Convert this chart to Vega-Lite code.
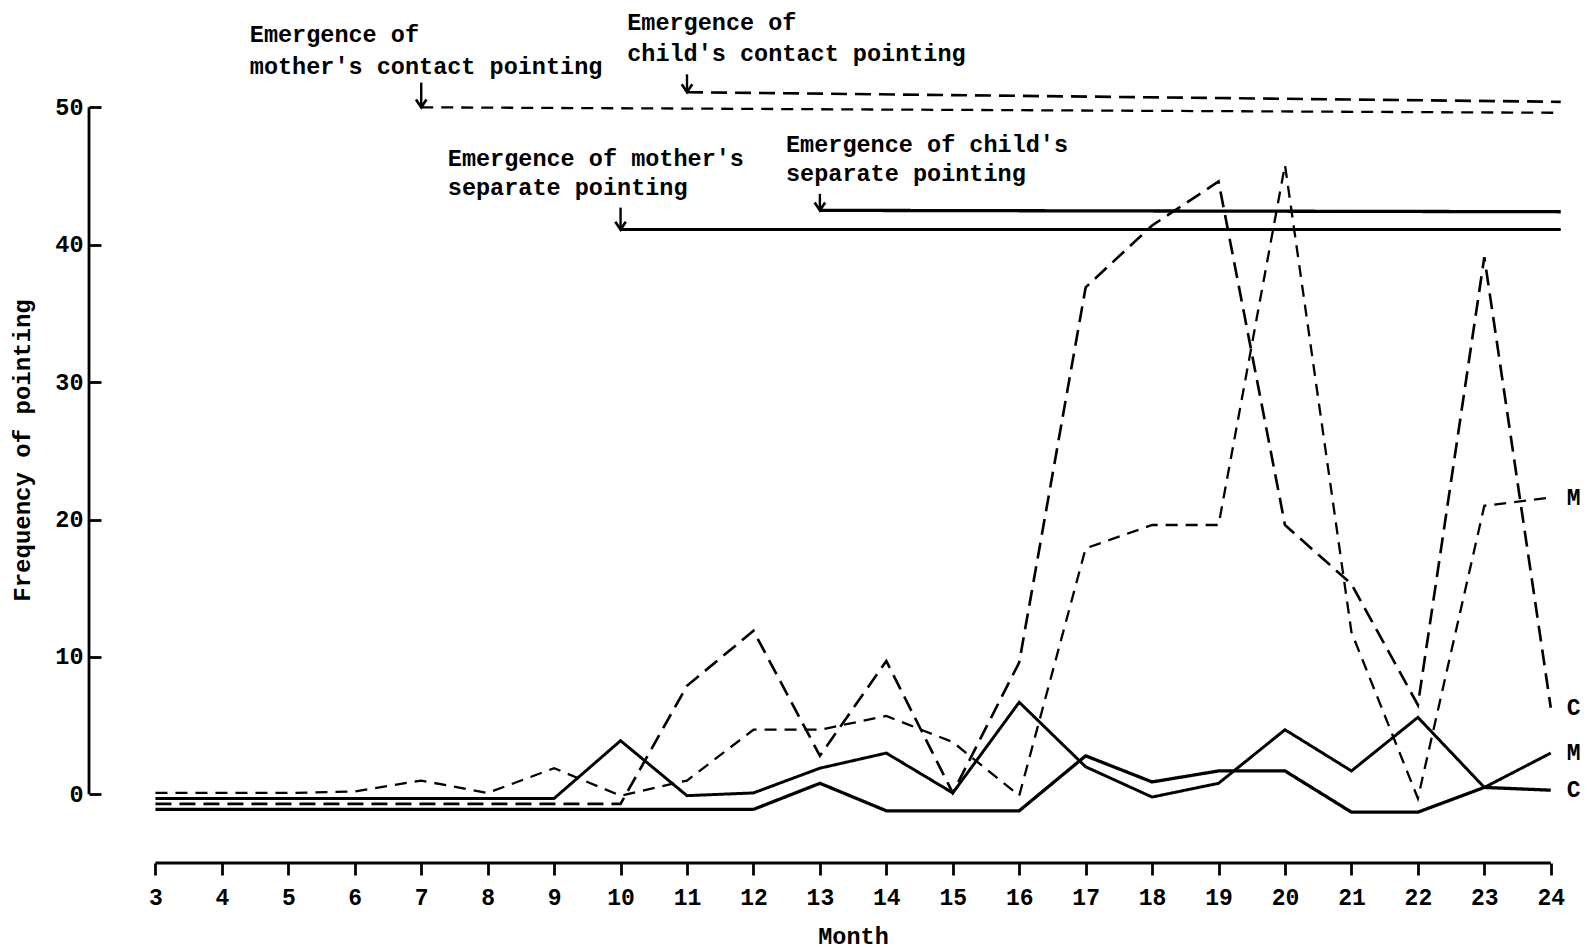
{
  "$schema": "https://vega.github.io/schema/vega-lite/v6.json",
  "width": 1495,
  "height": 863,
  "autosize": {"type": "none"},
  "padding": {"left": 89, "top": 0, "right": 3, "bottom": 88},
  "background": "white",
  "config": {"view": {"stroke": null}, "font": "Liberation Mono", "axis": {"grid": false}},
  "datasets": {
    "series": [
      {"month": 3, "value": 0.1, "series": "mother contact", "who": "M"},
      {"month": 4, "value": 0.1, "series": "mother contact", "who": "M"},
      {"month": 5, "value": 0.1, "series": "mother contact", "who": "M"},
      {"month": 6, "value": 0.2, "series": "mother contact", "who": "M"},
      {"month": 7, "value": 1.0, "series": "mother contact", "who": "M"},
      {"month": 8, "value": 0.1, "series": "mother contact", "who": "M"},
      {"month": 9, "value": 1.9, "series": "mother contact", "who": "M"},
      {"month": 10, "value": -0.1, "series": "mother contact", "who": "M"},
      {"month": 11, "value": 1.0, "series": "mother contact", "who": "M"},
      {"month": 12, "value": 4.7, "series": "mother contact", "who": "M"},
      {"month": 13, "value": 4.7, "series": "mother contact", "who": "M"},
      {"month": 14, "value": 5.7, "series": "mother contact", "who": "M"},
      {"month": 15, "value": 3.8, "series": "mother contact", "who": "M"},
      {"month": 16, "value": -0.1, "series": "mother contact", "who": "M"},
      {"month": 17, "value": 17.9, "series": "mother contact", "who": "M"},
      {"month": 18, "value": 19.6, "series": "mother contact", "who": "M"},
      {"month": 19, "value": 19.6, "series": "mother contact", "who": "M"},
      {"month": 20, "value": 45.8, "series": "mother contact", "who": "M"},
      {"month": 21, "value": 11.8, "series": "mother contact", "who": "M"},
      {"month": 22, "value": -0.3, "series": "mother contact", "who": "M"},
      {"month": 23, "value": 21.0, "series": "mother contact", "who": "M"},
      {"month": 24, "value": 21.6, "series": "mother contact", "who": "M"},

      {"month": 3, "value": -0.7, "series": "child contact", "who": "C"},
      {"month": 4, "value": -0.7, "series": "child contact", "who": "C"},
      {"month": 5, "value": -0.7, "series": "child contact", "who": "C"},
      {"month": 6, "value": -0.7, "series": "child contact", "who": "C"},
      {"month": 7, "value": -0.7, "series": "child contact", "who": "C"},
      {"month": 8, "value": -0.7, "series": "child contact", "who": "C"},
      {"month": 9, "value": -0.7, "series": "child contact", "who": "C"},
      {"month": 10, "value": -0.7, "series": "child contact", "who": "C"},
      {"month": 11, "value": 7.9, "series": "child contact", "who": "C"},
      {"month": 12, "value": 11.9, "series": "child contact", "who": "C"},
      {"month": 13, "value": 2.8, "series": "child contact", "who": "C"},
      {"month": 14, "value": 9.7, "series": "child contact", "who": "C"},
      {"month": 15, "value": 0.1, "series": "child contact", "who": "C"},
      {"month": 16, "value": 9.6, "series": "child contact", "who": "C"},
      {"month": 17, "value": 36.9, "series": "child contact", "who": "C"},
      {"month": 18, "value": 41.4, "series": "child contact", "who": "C"},
      {"month": 19, "value": 44.6, "series": "child contact", "who": "C"},
      {"month": 20, "value": 19.6, "series": "child contact", "who": "C"},
      {"month": 21, "value": 15.3, "series": "child contact", "who": "C"},
      {"month": 22, "value": 6.5, "series": "child contact", "who": "C"},
      {"month": 23, "value": 39.1, "series": "child contact", "who": "C"},
      {"month": 24, "value": 6.3, "series": "child contact", "who": "C"},

      {"month": 3, "value": -0.3, "series": "mother separate", "who": "M"},
      {"month": 4, "value": -0.3, "series": "mother separate", "who": "M"},
      {"month": 5, "value": -0.3, "series": "mother separate", "who": "M"},
      {"month": 6, "value": -0.3, "series": "mother separate", "who": "M"},
      {"month": 7, "value": -0.3, "series": "mother separate", "who": "M"},
      {"month": 8, "value": -0.3, "series": "mother separate", "who": "M"},
      {"month": 9, "value": -0.3, "series": "mother separate", "who": "M"},
      {"month": 10, "value": 3.9, "series": "mother separate", "who": "M"},
      {"month": 11, "value": -0.1, "series": "mother separate", "who": "M"},
      {"month": 12, "value": 0.1, "series": "mother separate", "who": "M"},
      {"month": 13, "value": 1.9, "series": "mother separate", "who": "M"},
      {"month": 14, "value": 3.0, "series": "mother separate", "who": "M"},
      {"month": 15, "value": 0.1, "series": "mother separate", "who": "M"},
      {"month": 16, "value": 6.7, "series": "mother separate", "who": "M"},
      {"month": 17, "value": 2.0, "series": "mother separate", "who": "M"},
      {"month": 18, "value": -0.2, "series": "mother separate", "who": "M"},
      {"month": 19, "value": 0.8, "series": "mother separate", "who": "M"},
      {"month": 20, "value": 4.7, "series": "mother separate", "who": "M"},
      {"month": 21, "value": 1.7, "series": "mother separate", "who": "M"},
      {"month": 22, "value": 5.6, "series": "mother separate", "who": "M"},
      {"month": 23, "value": 0.5, "series": "mother separate", "who": "M"},
      {"month": 24, "value": 3.0, "series": "mother separate", "who": "M"},

      {"month": 3, "value": -1.1, "series": "child separate", "who": "C"},
      {"month": 4, "value": -1.1, "series": "child separate", "who": "C"},
      {"month": 5, "value": -1.1, "series": "child separate", "who": "C"},
      {"month": 6, "value": -1.1, "series": "child separate", "who": "C"},
      {"month": 7, "value": -1.1, "series": "child separate", "who": "C"},
      {"month": 8, "value": -1.1, "series": "child separate", "who": "C"},
      {"month": 9, "value": -1.1, "series": "child separate", "who": "C"},
      {"month": 10, "value": -1.1, "series": "child separate", "who": "C"},
      {"month": 11, "value": -1.1, "series": "child separate", "who": "C"},
      {"month": 12, "value": -1.1, "series": "child separate", "who": "C"},
      {"month": 13, "value": 0.8, "series": "child separate", "who": "C"},
      {"month": 14, "value": -1.2, "series": "child separate", "who": "C"},
      {"month": 15, "value": -1.2, "series": "child separate", "who": "C"},
      {"month": 16, "value": -1.2, "series": "child separate", "who": "C"},
      {"month": 17, "value": 2.8, "series": "child separate", "who": "C"},
      {"month": 18, "value": 0.9, "series": "child separate", "who": "C"},
      {"month": 19, "value": 1.7, "series": "child separate", "who": "C"},
      {"month": 20, "value": 1.7, "series": "child separate", "who": "C"},
      {"month": 21, "value": -1.3, "series": "child separate", "who": "C"},
      {"month": 22, "value": -1.3, "series": "child separate", "who": "C"},
      {"month": 23, "value": 0.5, "series": "child separate", "who": "C"},
      {"month": 24, "value": 0.3, "series": "child separate", "who": "C"}
    ],
    "guides": [
      {"series": "mother contact", "start": 7, "end": 24.15, "y1": 50.0, "y2": 49.6, "top": 51.8},
      {"series": "child contact", "start": 11, "end": 24.15, "y1": 51.1, "y2": 50.4, "top": 52.4},
      {"series": "mother separate", "start": 10, "end": 24.15, "y1": 41.1, "y2": 41.1, "top": 42.7},
      {"series": "child separate", "start": 13, "end": 24.15, "y1": 42.5, "y2": 42.4, "top": 43.7}
    ],
    "notes": [
      {"month": 4.42, "value": 55.23, "text": "Emergence of"},
      {"month": 4.42, "value": 52.95, "text": "mother's contact pointing"},
      {"month": 10.1, "value": 56.11, "text": "Emergence of"},
      {"month": 10.1, "value": 53.91, "text": "child's contact pointing"},
      {"month": 7.4, "value": 46.24, "text": "Emergence of mother's"},
      {"month": 7.4, "value": 44.11, "text": "separate pointing"},
      {"month": 12.49, "value": 47.28, "text": "Emergence of child's"},
      {"month": 12.49, "value": 45.14, "text": "separate pointing"}
    ],
    "frame": [{"x0": 2, "x3": 3, "x24": 24, "ybottom": -5, "y0": 0, "y50": 50}]
  },
  "layer": [
    {
      "data": {"name": "series"},
      "mark": {"type": "line", "color": "black", "strokeJoin": "miter"},
      "encoding": {
        "x": {
          "field": "month", "type": "quantitative",
          "scale": {"domain": [2, 24.5], "nice": false, "zero": false},
          "axis": {
            "values": [3, 4, 5, 6, 7, 8, 9, 10, 11, 12, 13, 14, 15, 16, 17, 18, 19, 20, 21, 22, 23, 24],
            "format": "d", "domain": false, "ticks": true, "tickSize": 12, "tickWidth": 2.8, "tickColor": "black",
            "labelFontSize": 23, "labelFont": "Liberation Mono", "labelFontWeight": "bold", "labelColor": "black", "labelPadding": 11,
            "labelFlush": false, "labelOverlap": false,
            "title": "Month", "titleFont": "Liberation Mono", "titleFontSize": 23.5, "titleFontWeight": "bold", "titleColor": "black",
            "titleX": 764, "titleY": 73, "titleAlign": "center", "titleBaseline": "middle"
          }
        },
        "y": {
          "field": "value", "type": "quantitative",
          "scale": {"domain": [-5, 57.81], "nice": false, "zero": false},
          "axis": {
            "values": [0, 10, 20, 30, 40, 50],
            "domain": false, "ticks": true, "tickSize": -12, "tickWidth": 2.8, "tickColor": "black",
            "labelFontSize": 23.5, "labelFont": "Liberation Mono", "labelFontWeight": "bold", "labelColor": "black", "labelPadding": 18,
            "title": "Frequency of pointing", "titleFont": "Liberation Mono", "titleFontSize": 24, "titleFontWeight": "bold", "titleColor": "black",
            "titleAngle": -90, "titleX": -67, "titleY": 450, "titleAlign": "center", "titleBaseline": "middle"
          }
        },
        "strokeDash": {
          "field": "series", "type": "nominal",
          "scale": {"domain": ["mother contact", "child contact", "mother separate", "child separate"], "range": [[12, 8], [16, 8], [1, 0], [1, 0]]},
          "legend": null
        },
        "strokeWidth": {
          "field": "series", "type": "ordinal",
          "scale": {"domain": ["mother contact", "child contact", "mother separate", "child separate"], "range": [2.3, 3.3, 2.3, 3.8]},
          "legend": null
        }
      }
    },
    {
      "data": {"name": "frame"},
      "mark": {"type": "rule", "color": "black", "strokeWidth": 3.2},
      "encoding": {
        "x": {"field": "x3", "type": "quantitative"},
        "x2": {"field": "x24"},
        "y": {"field": "ybottom", "type": "quantitative"}
      }
    },
    {
      "data": {"name": "frame"},
      "mark": {"type": "rule", "color": "black", "strokeWidth": 2.8},
      "encoding": {
        "x": {"field": "x0", "type": "quantitative"},
        "y": {"field": "y0", "type": "quantitative"},
        "y2": {"field": "y50"}
      }
    },
    {
      "data": {"name": "guides"},
      "mark": {"type": "rule", "color": "black"},
      "encoding": {
        "x": {"field": "start", "type": "quantitative"},
        "x2": {"field": "end"},
        "y": {"field": "y1", "type": "quantitative"},
        "y2": {"field": "y2"},
        "strokeDash": {"field": "series", "type": "nominal", "legend": null},
        "strokeWidth": {"field": "series", "type": "ordinal", "legend": null}
      }
    },
    {
      "data": {"name": "guides"},
      "mark": {"type": "rule", "color": "black", "strokeWidth": 2.4},
      "encoding": {
        "x": {"field": "start", "type": "quantitative"},
        "y": {"field": "top", "type": "quantitative"},
        "y2": {"field": "y1"}
      }
    },
    {
      "data": {"name": "guides"},
      "mark": {"type": "point", "shape": "M -1 -1.5 L 0 0 L 1 -1.5", "size": 110, "filled": false, "color": "black", "strokeWidth": 2.6, "opacity": 1},
      "encoding": {
        "x": {"field": "start", "type": "quantitative"},
        "y": {"field": "y1", "type": "quantitative"}
      }
    },
    {
      "data": {"name": "notes"},
      "mark": {"type": "text", "align": "left", "baseline": "middle", "font": "Liberation Mono", "fontSize": 23.5, "fontWeight": "bold", "color": "black"},
      "encoding": {
        "x": {"field": "month", "type": "quantitative"},
        "y": {"field": "value", "type": "quantitative"},
        "text": {"field": "text"}
      }
    },
    {
      "data": {"name": "series"},
      "transform": [{"filter": "datum.month == 24"}],
      "mark": {"type": "text", "align": "left", "baseline": "middle", "dx": 16, "font": "Liberation Mono", "fontSize": 23, "fontWeight": "bold", "color": "black"},
      "encoding": {
        "x": {"field": "month", "type": "quantitative"},
        "y": {"field": "value", "type": "quantitative"},
        "text": {"field": "who"}
      }
    }
  ]
}
